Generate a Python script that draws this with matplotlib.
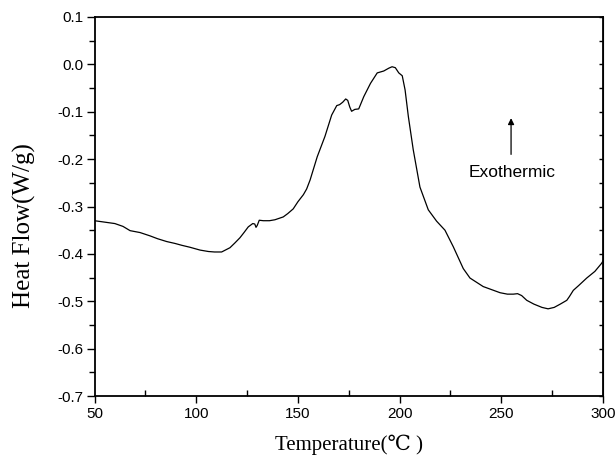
import numpy as np
import matplotlib.pyplot as plt
from matplotlib.ticker import MultipleLocator

# DSC curve
temp = [50, 55, 60, 64, 67.5, 72.4, 77.3, 81, 85.5, 89.6, 93, 96.9, 101.9, 106, 109, 112.5,
        116.6, 119, 121.5, 123.5, 125.6, 127.8, 128.8, 129.4, 130, 131, 133, 136, 138.7, 142.8,
        145, 147.7, 150, 152.7, 154.3, 156, 159.5, 163.3, 166.6, 169.1, 170.5, 172, 173.5,
        174.5, 175.5, 176.4, 178, 179.9, 182.4, 185.7, 189, 192.2, 194.7, 196.3, 197.9,
        199.6, 201.3, 202.7, 204.3, 206.7, 210, 214.1, 218.2, 222.3, 226.4, 231.3, 234.6,
        241.1, 249.4, 253, 255.9, 258, 260, 262.5, 266, 270, 273, 276, 279, 282.2, 283.5,
        285.4, 288, 292, 296, 299.3, 300]
heat = [-0.330, -0.333, -0.336, -0.342, -0.351, -0.355, -0.362, -0.368, -0.374, -0.378,
        -0.382, -0.386, -0.392, -0.395, -0.396, -0.396, -0.387, -0.377, -0.366, -0.355,
        -0.343, -0.336, -0.337, -0.344, -0.340, -0.329, -0.330, -0.330, -0.328, -0.322,
        -0.315, -0.305, -0.290, -0.275, -0.263, -0.244, -0.195, -0.152, -0.107, -0.087,
        -0.085, -0.080, -0.073, -0.076, -0.090, -0.099, -0.095, -0.094, -0.068, -0.040,
        -0.018, -0.014, -0.008, -0.005, -0.007, -0.018, -0.024, -0.054, -0.110, -0.180,
        -0.259, -0.307, -0.331, -0.350, -0.385, -0.431, -0.451, -0.469, -0.482, -0.485,
        -0.485, -0.484, -0.488, -0.498, -0.506, -0.513, -0.516, -0.513, -0.506, -0.498,
        -0.490, -0.477, -0.467, -0.451, -0.437, -0.420, -0.415]

fig = plt.figure(figsize=(6.15, 4.58), dpi=100)
ax = fig.add_axes([94.5 / 615, 1 - 396 / 458, 508.5 / 615, 379 / 458])

ax.plot(temp, heat, color='black', lw=0.9)

ax.set_xlim(50, 300)
ax.set_ylim(-0.7, 0.1)
ax.xaxis.set_major_locator(MultipleLocator(50))
ax.xaxis.set_minor_locator(MultipleLocator(25))
ax.yaxis.set_major_locator(MultipleLocator(0.1))
ax.yaxis.set_minor_locator(MultipleLocator(0.05))
ax.yaxis.set_major_formatter(plt.FuncFormatter(lambda v, p: '%.1f' % v))

for s in ax.spines.values():
    s.set_linewidth(1.3)

ax.tick_params(axis='x', which='major', direction='out', length=5, width=1,
               labelsize=11, pad=3)
ax.tick_params(axis='x', which='minor', direction='in', length=4, width=1)
ax.tick_params(axis='y', which='major', direction='out', length=6, width=1,
               labelsize=11, pad=2)
ax.tick_params(axis='y', which='minor', direction='out', length=4, width=1)
ax.tick_params(axis='x', which='both', top=False)

# small inward ticks on the right frame
ay = ax.secondary_yaxis('right')
ay.yaxis.set_major_locator(MultipleLocator(0.05))
ay.tick_params(direction='in', length=3, width=1, labelright=False)

for lab in ax.get_xticklabels() + ax.get_yticklabels():
    lab.set_family('Liberation Sans')

ax.set_xlabel('Temperature(℃ )', family=['Liberation Serif', 'DejaVu Serif'],
              fontsize=15, labelpad=10)
ax.set_ylabel('Heat Flow(W/g)', family='Liberation Serif', fontsize=18)
ax.yaxis.set_label_coords(-0.115, 0.45)

ax.annotate('', xy=(254.8, -0.1135), xytext=(254.8, -0.19),
            arrowprops=dict(arrowstyle='-|>', color='black', lw=0.9,
                            mutation_scale=9, shrinkA=0, shrinkB=0))
ax.text(255.5, -0.228, 'Exothermic', ha='center', va='center',
        family='Liberation Sans', fontsize=12.5)

fig.savefig('out.png', dpi=100)
